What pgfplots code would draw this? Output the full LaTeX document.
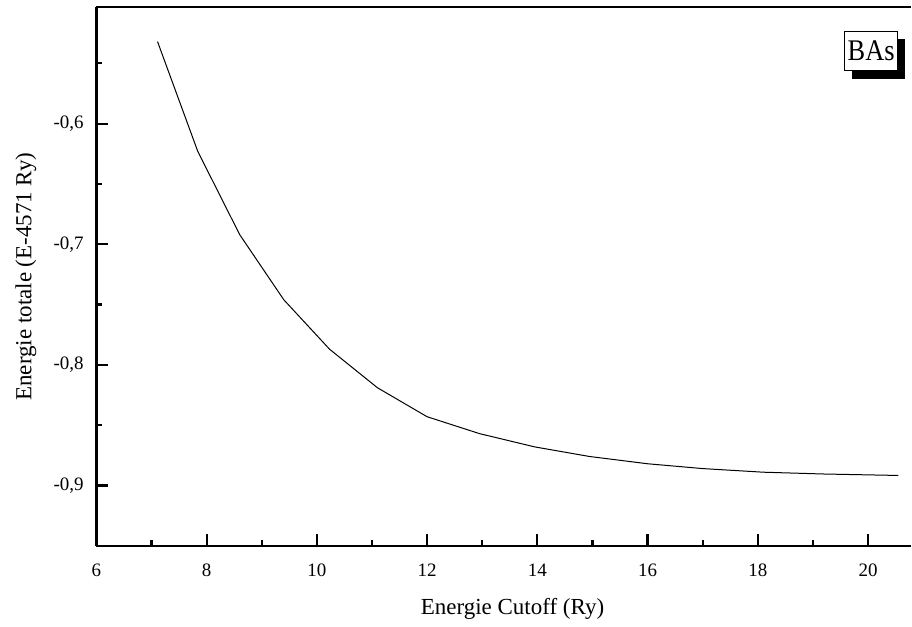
\documentclass[border=0pt]{standalone}
\usepackage{pgfplots}
\pgfplotsset{compat=1.18}
\usepackage{fontspec}
\setmainfont{Liberation Serif}
\usetikzlibrary{shadows}
\begin{document}
\begin{tikzpicture}
\begin{axis}[
  scale only axis,
  width=407.75pt, height=269.6pt,
  xmin=6, xmax=20.775,
  ymin=-0.95, ymax=-0.5035,
  axis y line*=left,
  axis x line*=box,
  axis line style={-, line width=1.2pt},
  xtick pos=left,
  ytick pos=left,
  tick align=inside,
  major tick length=5.8pt,
  minor tick length=2.9pt,
  every tick/.style={black, line width=1.1pt},
  xtick={6,8,10,12,14,16,18,20},
  xticklabels={6,8,10,12,14,16,18,20},
  ytick={-0.9,-0.8,-0.7,-0.6},
  yticklabels={{-0,9},{-0,8},{-0,7},{-0,6}},
  minor xtick={7,9,11,13,15,17,19},
  minor ytick={-0.95,-0.85,-0.75,-0.65,-0.55},
  ticklabel style={font=\fontsize{9.5}{11}\selectfont},
  xticklabel style={yshift=-5.6pt},
  yticklabel style={xshift=-2.8pt},
  xlabel={Energie Cutoff (Ry)},
  ylabel={Energie totale (E-4571 Ry)},
  label style={font=\fontsize{11.5}{13}\selectfont},
  xlabel style={at={(rel axis cs:0.511,0)}, anchor=north, yshift=-23pt},
  ylabel style={at={(rel axis cs:0,0.5)}, anchor=south, yshift=26.5pt},
  clip=false,
]
\addplot[black, line width=0.5pt] coordinates {
(7.11,-0.532) (7.84,-0.623) (8.60,-0.692) (9.40,-0.746) (10.23,-0.787)
(11.10,-0.819) (12.00,-0.843) (12.95,-0.857) (13.95,-0.868) (14.95,-0.876)
(16.00,-0.882) (17.00,-0.886) (18.10,-0.889) (19.20,-0.8905) (20.55,-0.8917)
};
\node[draw=black, line width=0.5pt, fill=white, inner sep=0pt,
      minimum width=26.5pt, minimum height=19.7pt,
      drop shadow={shadow xshift=3.85pt, shadow yshift=-4pt, opacity=1, fill=black}]
  at (axis cs:20.056,-0.5399) {\scalebox{0.88}[1]{\fontsize{15}{15}\selectfont BAs}};
\path (rel axis cs:-0.1183,-0.1397) rectangle (rel axis cs:1,1.0135);
\end{axis}
\end{tikzpicture}
\end{document}
